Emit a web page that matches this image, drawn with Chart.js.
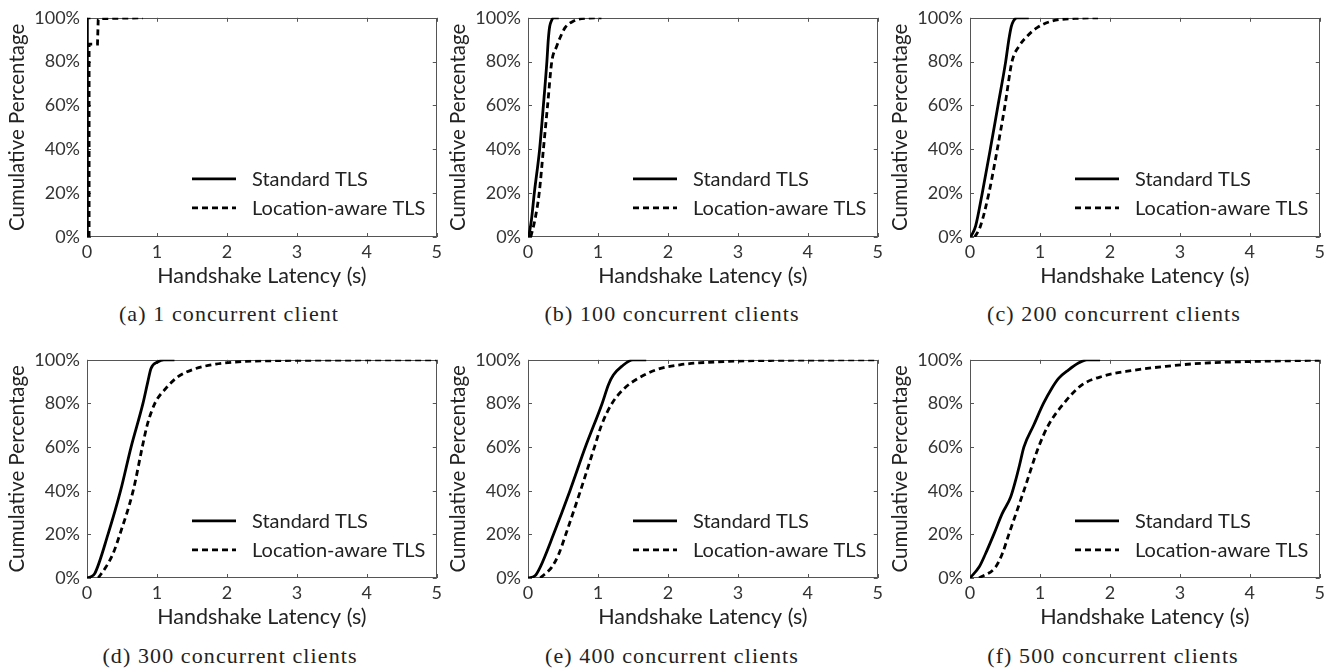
<!DOCTYPE html>
<html>
<head>
<meta charset="utf-8">
<title>Handshake latency CDF</title>
<script src="https://cdn.jsdelivr.net/npm/chart.js@4.4.1/dist/chart.umd.min.js"></script>
<style>
  body { margin: 0; background: #fff; width: 1338px; height: 669px; position: relative; overflow: hidden; }
  .panel { position: absolute; }
  .caption {
    position: absolute; width: 440px; text-align: center;
    font-family: "Liberation Serif", serif; font-size: 22px; color: #222;
    letter-spacing: 1.1px;
  }
</style>
</head>
<body>
<div class="panel" style="left:0px;top:0px"><canvas id="chart-a" width="446" height="295"></canvas></div>
<div class="panel" style="left:441px;top:0px"><canvas id="chart-b" width="446" height="295"></canvas></div>
<div class="panel" style="left:883px;top:0px"><canvas id="chart-c" width="446" height="295"></canvas></div>
<div class="panel" style="left:0px;top:342px"><canvas id="chart-d" width="446" height="294"></canvas></div>
<div class="panel" style="left:441px;top:342px"><canvas id="chart-e" width="446" height="294"></canvas></div>
<div class="panel" style="left:883px;top:342px"><canvas id="chart-f" width="446" height="294"></canvas></div>

<div class="caption" id="cap-a" style="left:9px;top:301px"></div>
<div class="caption" id="cap-b" style="left:452px;top:301px"></div>
<div class="caption" id="cap-c" style="left:894px;top:301px"></div>
<div class="caption" id="cap-d" style="left:10px;top:643px"></div>
<div class="caption" id="cap-e" style="left:452px;top:643px"></div>
<div class="caption" id="cap-f" style="left:893px;top:643px"></div>

<script>
'use strict';

//Labels
let captions = ['(a) 1 concurrent client', '(b) 100 concurrent clients', '(c) 200 concurrent clients',
  '(d) 300 concurrent clients', '(e) 400 concurrent clients', '(f) 500 concurrent clients'];
let seriesNames = ['Standard TLS', 'Location-aware TLS'];
let xTitle = 'Handshake Latency (s)';
let yTitle = 'Cumulative Percentage';
let xTicks = [0, 1, 2, 3, 4, 5];
let yTicks = [0, 20, 40, 60, 80, 100];

//Data: latency (s) and cumulative %
// (a) 1 client
let stdLatA = [0.005, 0.005, 0.05];
let stdPctA = [0, 100, 100];
let locLatA = [0.03, 0.03, 0.15, 0.16, 0.18, 0.8];
let locPctA = [0, 88, 88, 99, 99.6, 100];

// (b) 100 clients
let stdLatB = [0.01, 0.05, 0.09, 0.166, 0.22, 0.27, 0.29, 0.31, 0.34, 0.365, 0.44];
let stdPctB = [0, 8, 20, 40, 60, 80, 90, 96, 99, 100, 100];
let locLatB = [0.04, 0.1, 0.16, 0.22, 0.28, 0.34, 0.41, 0.46, 0.53, 0.65, 0.82, 1.05];
let locPctB = [0, 8, 20, 40, 60, 80, 87, 91, 95.5, 98.5, 99.8, 100];

// (c) 200 clients
let stdLatC = [0.01, 0.08, 0.175, 0.29, 0.40, 0.51, 0.555, 0.59, 0.62, 0.67, 0.84];
let stdPctC = [0, 5, 20, 40, 60, 80, 90, 96, 98.5, 100, 100];
let locLatC = [0.07, 0.15, 0.27, 0.39, 0.50, 0.60, 0.70, 0.82, 0.96, 1.17, 1.5, 1.83];
let locPctC = [0, 5, 20, 40, 60, 80, 87, 91.7, 95.5, 98.5, 99.7, 100];

// (d) 300 clients
let stdLatD = [0.0, 0.05, 0.11, 0.30, 0.48, 0.63, 0.80, 0.87, 0.915, 1.01, 1.1, 1.25];
let stdPctD = [0, 0.5, 2, 20, 40, 60, 80, 90, 96, 99, 100, 100];
let locLatD = [0.16, 0.27, 0.37, 0.47, 0.66, 0.79, 0.86, 0.97, 1.13, 1.29, 1.51, 1.84, 2.5, 5];
let locPctD = [0, 5, 11, 20, 40, 60, 70, 80, 87, 92, 95.5, 98, 99.5, 100];

// (e) 400 clients
let stdLatE = [0.0, 0.10, 0.175, 0.365, 0.60, 0.82, 1.06, 1.15, 1.22, 1.34, 1.50, 1.69];
let stdPctE = [0, 1, 5, 20, 40, 60, 80, 88.6, 93, 97, 100, 100];
let locLatE = [0.175, 0.34, 0.44, 0.54, 0.75, 0.95, 1.05, 1.2, 1.38, 1.58, 1.83, 2.17, 2.8, 3.5, 5];
let locPctE = [0, 5, 11, 20, 40, 60, 70, 80, 87, 91.6, 95.4, 97.7, 99.2, 99.7, 100];

// (f) 500 clients
let stdLatF = [0.0, 0.13, 0.22, 0.34, 0.46, 0.58, 0.65, 0.71, 0.77, 0.91, 1.05, 1.17, 1.27, 1.41, 1.55, 1.67, 1.86];
let stdPctF = [0, 5, 11, 20, 29.5, 37, 44.5, 52, 60, 70, 80, 87, 91.6, 95.4, 98.5, 100, 100];
let locLatF = [0.13, 0.365, 0.46, 0.555, 0.77, 0.98, 1.12, 1.34, 1.6, 1.9, 2.3, 2.8, 3.35, 4.0, 5.0];
let locPctF = [0, 5, 11, 20, 40, 60, 70, 80, 88.5, 92.5, 95, 97, 98.5, 99.2, 99.8];

let panels = [
  {id: 'a', std: [stdLatA, stdPctA], loc: [locLatA, locPctA], stepped: true},
  {id: 'b', std: [stdLatB, stdPctB], loc: [locLatB, locPctB]},
  {id: 'c', std: [stdLatC, stdPctC], loc: [locLatC, locPctC]},
  {id: 'd', std: [stdLatD, stdPctD], loc: [locLatD, locPctD]},
  {id: 'e', std: [stdLatE, stdPctE], loc: [locLatE, locPctE]},
  {id: 'f', std: [stdLatF, stdPctF], loc: [locLatF, locPctF]}
];

Chart.defaults.font.family = 'Lato, "Open Sans", sans-serif';
Chart.defaults.color = '#333';

let dashPattern = [6, 4];
let lineW = 2.8;

function toPoints(xs, ys) {
  let pts = [];
  for (let i = 0; i < xs.length; i++) {
    pts.push({x: xs[i], y: ys[i]});
  }
  return pts;
}

//box with inward ticks + legend inside the plot
let frameAndLegend = {
  id: 'frameAndLegend',
  beforeDatasetsDraw(chart) {
    let ctx = chart.ctx;
    let a = chart.chartArea;
    let x = chart.scales.x;
    let y = chart.scales.y;
    ctx.save();
    ctx.strokeStyle = '#555';
    ctx.lineWidth = 1;
    ctx.strokeRect(Math.round(a.left) + 0.5, Math.round(a.top) + 0.5, Math.round(a.width) - 1, Math.round(a.height) - 1);
    ctx.beginPath();
    for (let v of xTicks) {
      let px = Math.round(x.getPixelForValue(v)) + 0.5;
      ctx.moveTo(px, a.bottom); ctx.lineTo(px, a.bottom - 4);
      ctx.moveTo(px, a.top); ctx.lineTo(px, a.top + 4);
    }
    for (let v of yTicks) {
      let py = Math.round(y.getPixelForValue(v)) + 0.5;
      ctx.moveTo(a.left, py); ctx.lineTo(a.left + 4, py);
      ctx.moveTo(a.right, py); ctx.lineTo(a.right - 4, py);
    }
    ctx.stroke();
    ctx.restore();
  },
  afterDraw(chart) {
    let ctx = chart.ctx;
    let a = chart.chartArea;
    let x0 = a.left + 105;
    let rows = [a.top + 161, a.top + 190];
    ctx.save();
    for (let i = 0; i < 2; i++) {
      ctx.beginPath();
      ctx.strokeStyle = '#000';
      ctx.lineWidth = lineW;
      ctx.setLineDash(i === 0 ? [] : dashPattern);
      ctx.moveTo(x0, rows[i]);
      ctx.lineTo(x0 + 44, rows[i]);
      ctx.stroke();
      ctx.setLineDash([]);
      ctx.fillStyle = '#222';
      ctx.font = '20px Lato, sans-serif';
      ctx.textBaseline = 'middle';
      ctx.fillText(seriesNames[i], x0 + 60, rows[i] + 1);
    }
    ctx.restore();
  }
};

function makeChart(p, index) {
  let canvas = document.getElementById('chart-' + p.id);
  document.getElementById('cap-' + p.id).textContent = captions[index];
  return new Chart(canvas, {
    type: 'line',
    data: {
      datasets: [
        {
          label: seriesNames[0],
          data: toPoints(p.std[0], p.std[1]),
          borderColor: '#000',
          borderWidth: lineW,
          pointRadius: 0,
          cubicInterpolationMode: p.stepped ? 'default' : 'monotone',
          tension: 0
        },
        {
          label: seriesNames[1],
          data: toPoints(p.loc[0], p.loc[1]),
          borderColor: '#000',
          borderWidth: lineW,
          borderDash: dashPattern,
          pointRadius: 0,
          cubicInterpolationMode: p.stepped ? 'default' : 'monotone',
          tension: 0
        }
      ]
    },
    options: {
      responsive: false,
      animation: false,
      devicePixelRatio: 1,
      layout: {padding: {left: 0, right: 7, top: 17, bottom: 0}},
      plugins: {legend: {display: false}, tooltip: {enabled: false}},
      scales: {
        x: {
          type: 'linear',
          min: 0,
          max: 5,
          afterFit: function (s) { s.height = 58; },
          afterBuildTicks: function (s) { s.ticks = xTicks.map(v => ({value: v})); },
          grid: {display: false, drawTicks: false},
          border: {display: false},
          ticks: {padding: 4, font: {size: 18}, color: '#333', maxRotation: 0},
          title: {display: true, text: xTitle, font: {size: 21.5}, color: '#222', padding: {top: 0, bottom: 6}}
        },
        y: {
          type: 'linear',
          min: 0,
          max: 100,
          afterFit: function (s) { s.width = 87; },
          afterBuildTicks: function (s) { s.ticks = yTicks.map(v => ({value: v})); },
          grid: {display: false, drawTicks: false},
          border: {display: false},
          ticks: {padding: 7, font: {size: 18}, color: '#333', callback: v => v + '%'},
          title: {display: true, text: yTitle, font: {size: 20.5}, color: '#222', padding: {top: 5, bottom: 0}}
        }
      }
    },
    plugins: [frameAndLegend]
  });
}

for (let i = 0; i < panels.length; i++) {
  makeChart(panels[i], i);
}
</script>
</body>
</html>
